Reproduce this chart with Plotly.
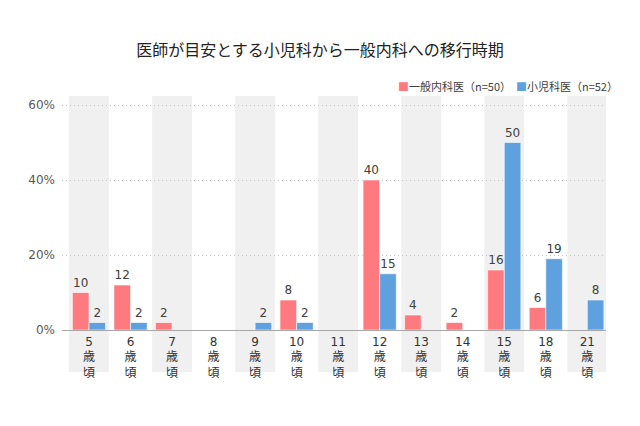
import plotly.graph_objects as go

categories = ["5", "6", "7", "8", "9", "10", "11", "12", "13", "14", "15", "18", "21"]
tick_labels = [c + "<br>歳<br>頃" for c in categories]
general = [10, 12, 2, None, None, 8, None, 40, 4, 2, 16, 6, None]
pediatric = [2, 2, None, None, 2, 2, None, 15, None, None, 50, 19, 8]
series_names = ["一般内科医（n=50）", "小児科医（n=52）"]
colors = ["#FF7A7E", "#5FA1DF"]
title = "医師が目安とする小児科から一般内科への移行時期"
y_ticks = [0, 20, 40, 60]

FONT = "DejaVu Sans, Noto Sans CJK JP, sans-serif"
JP = "Noto Sans CJK JP, sans-serif"

fig = go.Figure()
for name, vals, col in zip(series_names, [general, pediatric], colors):
    fig.add_trace(go.Bar(
        x=list(range(len(categories))), y=vals, name=name,
        marker=dict(color=col, line=dict(color="rgba(255,255,255,0.6)", width=1)),
        text=[("" if v is None else str(v)) for v in vals],
        textposition="outside", cliponaxis=False,
        textfont=dict(size=12, color="#404040", family=FONT),
        showlegend=False,
    ))

shapes = []
for i in range(len(categories)):
    if i % 2 == 0:
        shapes.append(dict(type="rect", xref="x", yref="paper",
                           x0=i - 0.48, x1=i + 0.48, y0=-0.18, y1=1,
                           fillcolor="#F0F0F0", line=dict(width=0), layer="below"))

legend_text = "&nbsp;&nbsp;".join(
    f"<span style='color:{c}'>■</span>{n}" for n, c in zip(series_names, colors))

fig.update_layout(
    width=640, height=426,
    margin=dict(l=54, r=42, t=88, b=104, autoexpand=False),
    paper_bgcolor="white", plot_bgcolor="white",
    barmode="group", bargap=0.2, bargroupgap=0,
    shapes=shapes,
    title=dict(text=title, x=312 / 640, xanchor="center", y=1 - 42 / 426, yanchor="middle",
               font=dict(size=16, color="#222222", family=JP)),
    annotations=[dict(text=legend_text, xref="paper", yref="paper", x=1.026, y=1.043,
                      xanchor="right", yanchor="middle", showarrow=False,
                      font=dict(size=11, color="#404040", family=JP))],
    font=dict(family=FONT, color="#404040"),
)
fig.update_xaxes(
    range=[-0.65, 12.45], tickmode="array",
    tickvals=list(range(len(categories))), ticktext=tick_labels,
    tickfont=dict(size=12, color="#333333", family=FONT),
    showgrid=False, zeroline=False, showline=True, linecolor="#A6A6A6", linewidth=1.2,
    ticks="", fixedrange=True,
)
fig.update_yaxes(
    range=[0, 62.4], tickmode="array", tickvals=y_ticks,
    ticktext=[f"{v}%" for v in y_ticks],
    tickfont=dict(size=12, color="#595959", family=FONT),
    showgrid=True, gridcolor="#C4C4C4", griddash="1px,3px", gridwidth=1,
    zeroline=False, showline=False, ticks="", ticklabelstandoff=6,
)

fig.write_html("out.html")
